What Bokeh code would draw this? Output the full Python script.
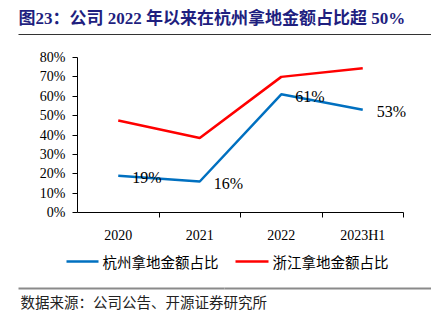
from bokeh.plotting import figure
from bokeh.models import Range1d, FixedTicker, NumeralTickFormatter, ColumnDataSource, LabelSet, LinearAxis
from bokeh.layouts import column
from bokeh.core.properties import value
from bokeh.embed import file_html
from bokeh.resources import INLINE

categories = ["2020", "2021", "2022", "2023H1"]
hangzhou = [0.19, 0.16, 0.61, 0.53]
zhejiang = [0.475, 0.385, 0.70, 0.745]
hz_labels = ["19%", "16%", "61%", "53%"]
y_ticks = [0, 0.1, 0.2, 0.3, 0.4, 0.5, 0.6, 0.7, 0.8]
series_names = ["杭州拿地金额占比", "浙江拿地金额占比"]
title_text = "图23：公司 2022 年以来在杭州拿地金额占比超 50%"
source_text = "数据来源：公司公告、开源证券研究所"

SERIF = "'Liberation Serif', 'Noto Sans CJK SC'"
CJK = "'Noto Sans CJK SC'"
BLUE = "#0070C0"
RED = "#FF0000"
W = 431


def blank(h, bottom=0):
    f = figure(width=W, height=h, x_range=Range1d(0, W), y_range=Range1d(0, h - bottom),
               output_backend="svg", toolbar_location=None,
               x_axis_location=None, y_axis_location=None,
               min_border=0, min_border_left=0, min_border_right=0,
               min_border_top=0, min_border_bottom=bottom, frame_align=False)
    f.outline_line_color = None
    f.xgrid.visible = False
    f.ygrid.visible = False
    return f


def rule_axis(f, color, width):
    ax = LinearAxis(bounds=(18, W), ticker=FixedTicker(ticks=[]))
    ax.axis_line_color = color
    ax.axis_line_width = width
    ax.major_tick_line_color = None
    ax.minor_tick_line_color = None
    ax.major_label_text_font_size = "0px"
    ax.major_label_standoff = 0
    f.add_layout(ax, "below")


# title block: frame covers top 34 px, its bottom edge is the rule
t = blank(40, bottom=6)
t.text(x=[18], y=[16], text=[title_text], text_font=value(SERIF), text_font_style="bold",
       text_font_size="17px", text_color="#1f1f7f", text_baseline="middle", text_align="left")
rule_axis(t, "#333333", 1.2)

# main chart
n = len(categories)
xs = [i + 0.5 for i in range(n)]
p = figure(width=W, height=205, x_range=Range1d(0, n + 28 / 81.5), y_range=Range1d(0, 0.8),
           output_backend="svg", toolbar_location=None, frame_align=False,
           min_border_left=77, min_border_right=0, min_border_top=17, min_border_bottom=32)
p.outline_line_color = None
p.xgrid.visible = False
p.ygrid.visible = False

p.xaxis.bounds = (0, n)
p.xaxis.ticker = FixedTicker(ticks=xs, minor_ticks=list(range(1, n + 1)))
p.xaxis.major_label_overrides = {x: c for x, c in zip(xs, categories)}
p.xaxis.major_tick_out = 0
p.xaxis.major_tick_in = 0
p.xaxis.minor_tick_out = 5
p.xaxis.minor_tick_in = 0
p.xaxis.minor_tick_line_color = "black"
p.xaxis.major_label_standoff = 10

p.yaxis.ticker = FixedTicker(ticks=y_ticks)
p.yaxis.formatter = NumeralTickFormatter(format="0%")
p.yaxis.major_tick_out = 5
p.yaxis.major_tick_in = 0
p.yaxis.minor_tick_out = 0
p.yaxis.minor_tick_in = 0
p.yaxis.major_label_standoff = 7

for ax in (p.xaxis, p.yaxis):
    ax.axis_line_color = "black"
    ax.major_tick_line_color = "black"
    ax.major_label_text_font = SERIF
    ax.major_label_text_font_size = "14px"
    ax.major_label_text_color = "black"

src = ColumnDataSource(dict(x=xs, hz=hangzhou, zj=zhejiang, lab=hz_labels))
p.line("x", "zj", source=src, line_color=RED, line_width=2.5)
p.line("x", "hz", source=src, line_color=BLUE, line_width=2.5)
labels = LabelSet(x="x", y="hz", text="lab", source=src, x_offset=14, y_offset=-2,
                  text_font=SERIF, text_font_size="16px", text_color="black",
                  text_baseline="middle", text_align="left")
p.add_layout(labels)

# legend + source block (y measured from the bottom of this block)
b = blank(77)
b.segment(x0=[66, 235], y0=[61, 61], x1=[98, 268], y1=[61, 61], line_color=[BLUE, RED], line_width=2.5)
b.text(x=[102, 272], y=[61, 61], text=series_names, text_font=value(CJK), text_font_size="14.5px",
       text_color="black", text_baseline="middle", text_align="left")
b.segment(x0=[18, 224], y0=[34, 34], x1=[224, 431], y1=[34, 34], line_color="#8a8a8a", line_width=2)
b.text(x=[20], y=[21], text=[source_text], text_font=value(CJK), text_font_size="14.5px",
       text_color="#222222", text_baseline="middle", text_align="left")

layout = column(t, p, b, spacing=0)
open("out.html", "w").write(file_html(layout, INLINE))
